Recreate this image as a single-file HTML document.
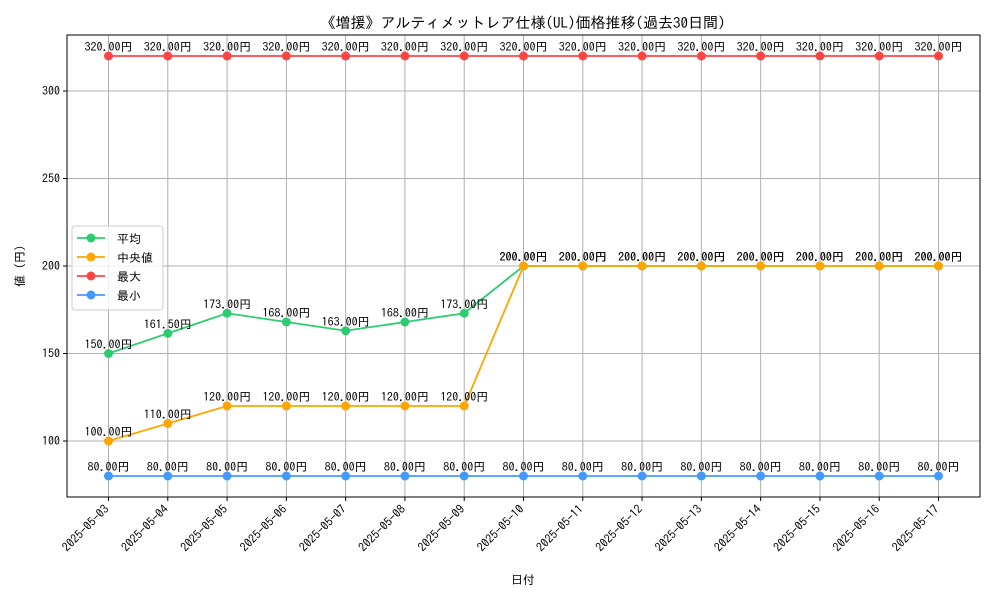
<!DOCTYPE html>
<html><head><meta charset="utf-8"><style>
body{margin:0;background:#fff}
svg text{font-family:"IPAGothic","Noto Sans CJK JP",sans-serif;fill:#000}
</style></head><body>
<svg id="chart" width="1000" height="600" xmlns="http://www.w3.org/2000/svg">
<rect width="1000" height="600" fill="#fff"/>
<text x="523" y="28" font-size="15" text-anchor="middle">《増援》アルティメットレア仕様(UL)価格推移(過去30日間)</text>
<g id="grid"></g><g id="axes"></g><g id="series"></g>
<text x="523" y="584" font-size="12" text-anchor="middle">日付</text>
<text transform="translate(24,266) rotate(-90)" font-size="12" text-anchor="middle">値 (円)</text>
<g id="legend"></g>
</svg>
<script>
const categories=["2025-05-03","2025-05-04","2025-05-05","2025-05-06","2025-05-07","2025-05-08","2025-05-09","2025-05-10","2025-05-11","2025-05-12","2025-05-13","2025-05-14","2025-05-15","2025-05-16","2025-05-17"];
const avgValues=[150,161.5,173,168,163,168,173,200,200,200,200,200,200,200,200];
const medianValues=[100,110,120,120,120,120,120,200,200,200,200,200,200,200,200];
const maxValues=[320,320,320,320,320,320,320,320,320,320,320,320,320,320,320];
const minValues=[80,80,80,80,80,80,80,80,80,80,80,80,80,80,80];
const yTicks=[100,150,200,250,300];
const seriesNames=["平均","中央値","最大","最小"];
const seriesColors=["#2ecc71","#ffa500","#ff4444","#4499ff"];

const NS="http://www.w3.org/2000/svg";
const L=67,R=980,T=35,B=497;
const all=[].concat(avgValues,medianValues,maxValues,minValues);
const dmin=Math.min(...all),dmax=Math.max(...all),pad=(dmax-dmin)*0.05;
const ymin=dmin-pad,ymax=dmax+pad;
const n=categories.length,xpad=(n-1)*0.05;
function xs(i){return L+(i+xpad)/(n-1+2*xpad)*(R-L);}
function ys(v){return B-(v-ymin)/(ymax-ymin)*(B-T);}
function mk(tag,attrs,parent){const e=document.createElementNS(NS,tag);for(const k in attrs)e.setAttribute(k,attrs[k]);parent.appendChild(e);return e;}
const grid=document.getElementById('grid'),axes=document.getElementById('axes'),ser=document.getElementById('series'),leg=document.getElementById('legend');
categories.forEach((c,i)=>{
  const x=xs(i);
  const g=mk('line',{x1:x,x2:x,y1:T,y2:B,stroke:'#b0b0b0','stroke-width':1},grid);
  
  
  mk('line',{x1:x,x2:x,y1:B,y2:B+4,stroke:'#000'},axes);
  const t=mk('text',{x:x,y:B+10,'font-size':12,'text-anchor':'end',transform:`rotate(-45 ${x+4} ${B+10})`},axes);
  
  
  t.textContent=c;
});
yTicks.forEach(v=>{
  const y=ys(v);
  const g=mk('line',{x1:L,x2:R,y1:y,y2:y,stroke:'#b0b0b0','stroke-width':1},grid);
  
  
  mk('line',{x1:L-4,x2:L,y1:y,y2:y,stroke:'#000'},axes);
  const t=mk('text',{x:L-7,y:y+4,'font-size':12,'text-anchor':'end'},axes);
  
  
  t.textContent=v;
});
const frame=mk('rect',{x:L,y:T,width:R-L,height:B-T,fill:'none',stroke:'#000','stroke-width':1},axes);


const data=[avgValues,medianValues,maxValues,minValues];
data.forEach((vals,s)=>{
  const g=mk('g',{},ser);
  
  
  const pl=mk('polyline',{points:vals.map((v,i)=>xs(i)+','+ys(v)).join(' '),fill:'none',stroke:seriesColors[s],'stroke-width':1.8},g);
  
  
  vals.forEach((v,i)=>{
    const c=mk('circle',{cx:xs(i),cy:ys(v),r:4.5,fill:seriesColors[s]},g);
    
    
    const t=mk('text',{x:xs(i),y:ys(v)-5,'font-size':12,'text-anchor':'middle'},g);
    
    
    t.textContent=v.toFixed(2)+'円';
  });
});
const box=mk('rect',{x:72,y:226,width:91,height:84,fill:'#fff','fill-opacity':0.8,stroke:'#ccc',rx:3},leg);


seriesNames.forEach((nm,s)=>{
  const y=238+s*19;
  const g=mk('g',{},leg);
  
  
  mk('line',{x1:77,x2:105,y1:y,y2:y,stroke:seriesColors[s],'stroke-width':1.8},g);
  mk('circle',{cx:91,cy:y,r:4.5,fill:seriesColors[s]},g);
  const t=mk('text',{x:117,y:y+5,'font-size':12},g);
  t.textContent=nm;
});
</script>
</body></html>
